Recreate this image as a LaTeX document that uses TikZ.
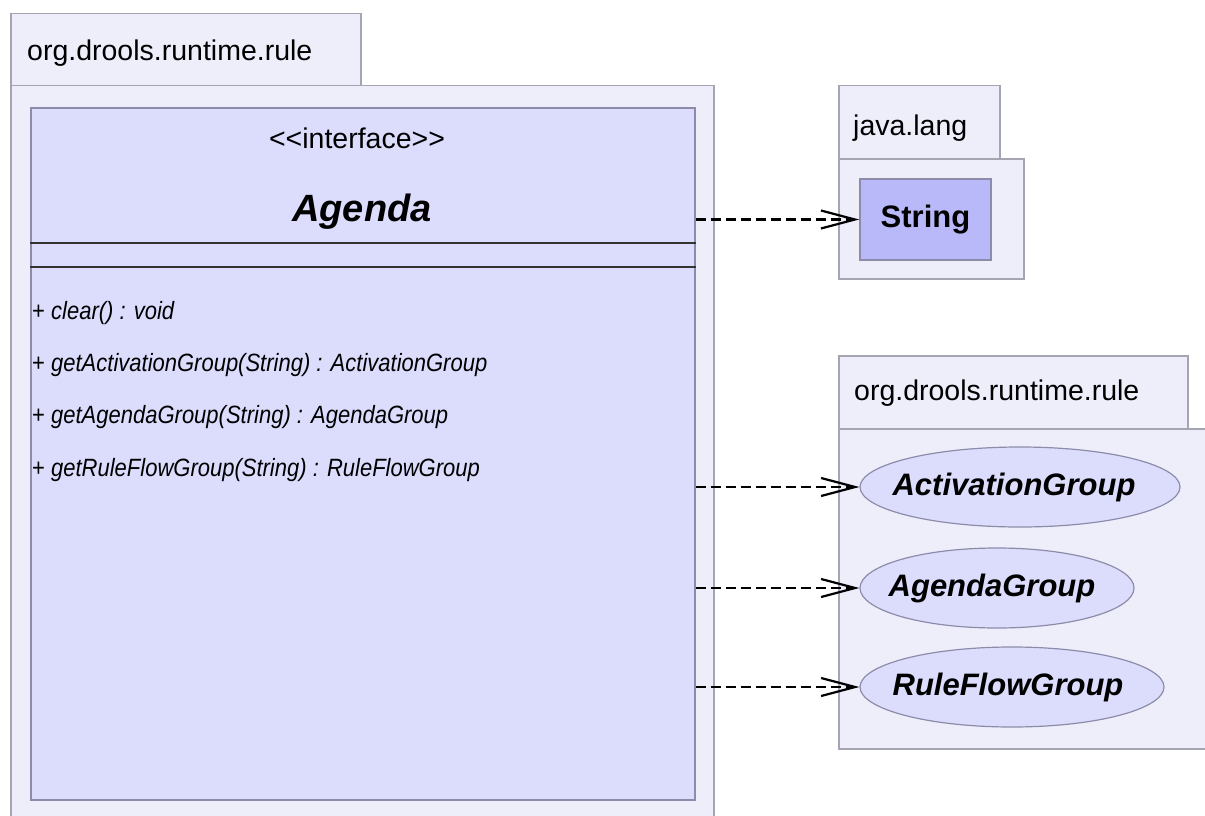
\documentclass[tikz,border=0pt]{standalone}
\usepackage{fontspec}
\setmainfont{Liberation Sans}
\usetikzlibrary{arrows.meta,shapes.geometric}
\definecolor{pkgfill}{RGB}{238,238,251}
\definecolor{pkgline}{RGB}{165,165,178}
\definecolor{clsfill}{RGB}{220,220,253}
\definecolor{clsline}{RGB}{140,140,170}
\definecolor{strfill}{RGB}{185,185,250}
\tikzset{
  pkg/.style={draw=pkgline, fill=pkgfill, line width=1.5pt, rectangle, inner sep=0pt, anchor=north west},
  pkglabel/.style={anchor=west, inner sep=0pt, font=\fontsize{28.5}{32}\selectfont},
  cls/.style={draw=clsline, fill=clsfill, line width=1.5pt, rectangle, inner sep=0pt, anchor=north west},
  meth/.style={anchor=west, inner sep=0pt, font=\fontsize{25}{28}\selectfont\itshape},
  ell/.style={draw=clsline, fill=clsfill, line width=1.2pt, ellipse, inner sep=0pt, minimum height=80pt},
  elltext/.style={inner sep=0pt, font=\fontsize{31}{36}\selectfont\bfseries\itshape},
  dep/.style={draw=black, line width=2.2pt, dash pattern=on 10pt off 5pt, -{Straight Barb[length=34pt,width=18pt,line width=2.2pt]}},
}
\newcommand{\mtext}[1]{\scalebox{0.88}[1]{#1}}
\begin{document}
\begin{tikzpicture}[x=1pt,y=-1pt]
\useasboundingbox (0,0) rectangle (1205,816);
\clip (0,0) rectangle (1205,816);
\fill[white] (0,0) rectangle (1205,816);
% left package
\node[pkg, minimum width=350pt, minimum height=72pt] (ltab) at (10,13) {};
\node[pkglabel] (ltabl) at (27,53) {org.drools.runtime.rule};
\node[pkg, minimum width=703pt, minimum height=760pt] (lpkg) at (10,85) {};
% class
\node[cls, minimum width=664pt, minimum height=692pt] (agenda) at (30,107) {};
\node[font=\fontsize{28.5}{32}\selectfont, inner sep=0pt] (stereo) at (357,138) {<{}<interface>{}>};
\node[font=\fontsize{38}{44}\selectfont\bfseries\itshape, inner sep=0pt] (aname) at (362,212) {Agenda};
\draw[line width=2pt, black!80] (agenda.west |- 0,243) -- (agenda.east |- 0,243);
\draw[line width=2pt, black!80] (agenda.west |- 0,267) -- (agenda.east |- 0,267);
\node[meth] (m1) at (32,313) {\mtext{\upshape+ \itshape clear() : void}};
\node[meth] (m2) at (32,365) {\mtext{\upshape+ \itshape getActivationGroup(String) : ActivationGroup}};
\node[meth] (m3) at (32,417) {\mtext{\upshape+ \itshape getAgendaGroup(String) : AgendaGroup}};
\node[meth] (m4) at (32,470) {\mtext{\upshape+ \itshape getRuleFlowGroup(String) : RuleFlowGroup}};
% java.lang package
\node[pkg, minimum width=161pt, minimum height=73pt] (jtab) at (838,85) {};
\node[pkglabel] (jtabl) at (853,128) {java.lang};
\node[pkg, minimum width=185pt, minimum height=120pt] (jpkg) at (838,158) {};
\node[draw=clsline, fill=strfill, line width=1.5pt, rectangle, inner sep=0pt, minimum width=131pt, minimum height=81pt, font=\fontsize{31}{36}\selectfont\bfseries] (string) at (925.5,219.5) {String};
% right package
\node[pkg, minimum width=349pt, minimum height=73pt] (rtab) at (838,355) {};
\node[pkglabel] (rtabl) at (854,393) {org.drools.runtime.rule};
\node[pkg, minimum width=380pt, minimum height=320pt] (rpkg) at (838,428) {};
\node[ell, minimum width=320pt] (ag) at (1020,487) {};
\node[elltext] (agt) at (1014,487) {ActivationGroup};
\node[ell, minimum width=274pt] (agg) at (997,588) {};
\node[elltext] (aggt) at (992,588) {AgendaGroup};
\node[ell, minimum width=304pt] (rfg) at (1012,687) {};
\node[elltext] (rfgt) at (1008,687) {RuleFlowGroup};
% dependencies
\draw[dep] (agenda.east |- string.west) -- (string.west);
\draw[dep] (agenda.east |- ag.west) -- (ag.west);
\draw[dep] (agenda.east |- agg.west) -- (agg.west);
\draw[dep] (agenda.east |- rfg.west) -- (rfg.west);
\end{tikzpicture}
\end{document}
